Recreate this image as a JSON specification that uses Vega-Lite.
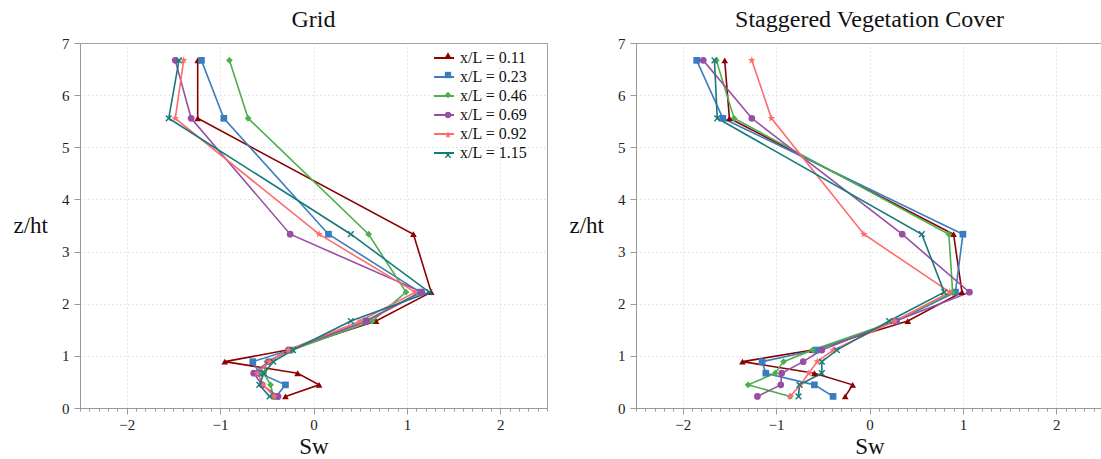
{
  "$schema": "https://vega.github.io/schema/vega-lite/v6.json",
  "background": "white",
  "padding": {"left": 12, "top": 7, "right": 0, "bottom": 0},
  "spacing": 20,
  "config": {
    "font": "Liberation Serif",
    "view": {"stroke": "#a0a0a0", "strokeWidth": 1},
    "title": {"font": "Liberation Serif", "fontSize": 24, "fontWeight": "normal", "color": "#111", "offset": 4},
    "axis": {
      "labelFont": "Liberation Serif", "labelFontSize": 15, "labelColor": "#222", "labelOverlap": false,
      "titleFont": "Liberation Serif", "titleFontSize": 23, "titleFontWeight": "normal", "titleColor": "#111",
      "domainColor": "#999", "tickColor": "#999", "gridColor": "#cfcfcf", "gridDash": [1, 3]
    }
  },
  "datasets": {
    "d": [
      {"panel": "Grid", "series": "x/L = 0.11", "z": 0.222, "sw": -0.30},
      {"panel": "Grid", "series": "x/L = 0.11", "z": 0.444, "sw": 0.06},
      {"panel": "Grid", "series": "x/L = 0.11", "z": 0.667, "sw": -0.17},
      {"panel": "Grid", "series": "x/L = 0.11", "z": 0.889, "sw": -0.95},
      {"panel": "Grid", "series": "x/L = 0.11", "z": 1.111, "sw": -0.28},
      {"panel": "Grid", "series": "x/L = 0.11", "z": 1.667, "sw": 0.67},
      {"panel": "Grid", "series": "x/L = 0.11", "z": 2.222, "sw": 1.26},
      {"panel": "Grid", "series": "x/L = 0.11", "z": 3.333, "sw": 1.07},
      {"panel": "Grid", "series": "x/L = 0.11", "z": 5.556, "sw": -1.24},
      {"panel": "Grid", "series": "x/L = 0.11", "z": 6.667, "sw": -1.24},

      {"panel": "Grid", "series": "x/L = 0.23", "z": 0.222, "sw": -0.40},
      {"panel": "Grid", "series": "x/L = 0.23", "z": 0.444, "sw": -0.30},
      {"panel": "Grid", "series": "x/L = 0.23", "z": 0.667, "sw": -0.58},
      {"panel": "Grid", "series": "x/L = 0.23", "z": 0.889, "sw": -0.65},
      {"panel": "Grid", "series": "x/L = 0.23", "z": 1.111, "sw": -0.25},
      {"panel": "Grid", "series": "x/L = 0.23", "z": 1.667, "sw": 0.56},
      {"panel": "Grid", "series": "x/L = 0.23", "z": 2.222, "sw": 1.14},
      {"panel": "Grid", "series": "x/L = 0.23", "z": 3.333, "sw": 0.16},
      {"panel": "Grid", "series": "x/L = 0.23", "z": 5.556, "sw": -0.96},
      {"panel": "Grid", "series": "x/L = 0.23", "z": 6.667, "sw": -1.20},

      {"panel": "Grid", "series": "x/L = 0.46", "z": 0.222, "sw": -0.43},
      {"panel": "Grid", "series": "x/L = 0.46", "z": 0.444, "sw": -0.46},
      {"panel": "Grid", "series": "x/L = 0.46", "z": 0.667, "sw": -0.53},
      {"panel": "Grid", "series": "x/L = 0.46", "z": 0.889, "sw": -0.50},
      {"panel": "Grid", "series": "x/L = 0.46", "z": 1.111, "sw": -0.23},
      {"panel": "Grid", "series": "x/L = 0.46", "z": 1.667, "sw": 0.63},
      {"panel": "Grid", "series": "x/L = 0.46", "z": 2.222, "sw": 0.99},
      {"panel": "Grid", "series": "x/L = 0.46", "z": 3.333, "sw": 0.59},
      {"panel": "Grid", "series": "x/L = 0.46", "z": 5.556, "sw": -0.70},
      {"panel": "Grid", "series": "x/L = 0.46", "z": 6.667, "sw": -0.90},

      {"panel": "Grid", "series": "x/L = 0.69", "z": 0.222, "sw": -0.38},
      {"panel": "Grid", "series": "x/L = 0.69", "z": 0.444, "sw": -0.55},
      {"panel": "Grid", "series": "x/L = 0.69", "z": 0.667, "sw": -0.64},
      {"panel": "Grid", "series": "x/L = 0.69", "z": 0.889, "sw": -0.48},
      {"panel": "Grid", "series": "x/L = 0.69", "z": 1.111, "sw": -0.27},
      {"panel": "Grid", "series": "x/L = 0.69", "z": 1.667, "sw": 0.57},
      {"panel": "Grid", "series": "x/L = 0.69", "z": 2.222, "sw": 1.16},
      {"panel": "Grid", "series": "x/L = 0.69", "z": 3.333, "sw": -0.25},
      {"panel": "Grid", "series": "x/L = 0.69", "z": 5.556, "sw": -1.31},
      {"panel": "Grid", "series": "x/L = 0.69", "z": 6.667, "sw": -1.48},

      {"panel": "Grid", "series": "x/L = 0.92", "z": 0.222, "sw": -0.42},
      {"panel": "Grid", "series": "x/L = 0.92", "z": 0.444, "sw": -0.54},
      {"panel": "Grid", "series": "x/L = 0.92", "z": 0.667, "sw": -0.60},
      {"panel": "Grid", "series": "x/L = 0.92", "z": 0.889, "sw": -0.47},
      {"panel": "Grid", "series": "x/L = 0.92", "z": 1.111, "sw": -0.27},
      {"panel": "Grid", "series": "x/L = 0.92", "z": 1.667, "sw": 0.50},
      {"panel": "Grid", "series": "x/L = 0.92", "z": 2.222, "sw": 1.09},
      {"panel": "Grid", "series": "x/L = 0.92", "z": 3.333, "sw": 0.06},
      {"panel": "Grid", "series": "x/L = 0.92", "z": 5.556, "sw": -1.48},
      {"panel": "Grid", "series": "x/L = 0.92", "z": 6.667, "sw": -1.39},

      {"panel": "Grid", "series": "x/L = 1.15", "z": 0.222, "sw": -0.47},
      {"panel": "Grid", "series": "x/L = 1.15", "z": 0.444, "sw": -0.58},
      {"panel": "Grid", "series": "x/L = 1.15", "z": 0.667, "sw": -0.53},
      {"panel": "Grid", "series": "x/L = 1.15", "z": 0.889, "sw": -0.43},
      {"panel": "Grid", "series": "x/L = 1.15", "z": 1.111, "sw": -0.22},
      {"panel": "Grid", "series": "x/L = 1.15", "z": 1.667, "sw": 0.40},
      {"panel": "Grid", "series": "x/L = 1.15", "z": 2.222, "sw": 1.24},
      {"panel": "Grid", "series": "x/L = 1.15", "z": 3.333, "sw": 0.40},
      {"panel": "Grid", "series": "x/L = 1.15", "z": 5.556, "sw": -1.55},
      {"panel": "Grid", "series": "x/L = 1.15", "z": 6.667, "sw": -1.44},

      {"panel": "Staggered", "series": "x/L = 0.11", "z": 0.222, "sw": -0.26},
      {"panel": "Staggered", "series": "x/L = 0.11", "z": 0.444, "sw": -0.18},
      {"panel": "Staggered", "series": "x/L = 0.11", "z": 0.667, "sw": -0.59},
      {"panel": "Staggered", "series": "x/L = 0.11", "z": 0.889, "sw": -1.36},
      {"panel": "Staggered", "series": "x/L = 0.11", "z": 1.111, "sw": -0.61},
      {"panel": "Staggered", "series": "x/L = 0.11", "z": 1.667, "sw": 0.41},
      {"panel": "Staggered", "series": "x/L = 0.11", "z": 2.222, "sw": 0.99},
      {"panel": "Staggered", "series": "x/L = 0.11", "z": 3.333, "sw": 0.90},
      {"panel": "Staggered", "series": "x/L = 0.11", "z": 5.556, "sw": -1.50},
      {"panel": "Staggered", "series": "x/L = 0.11", "z": 6.667, "sw": -1.55},

      {"panel": "Staggered", "series": "x/L = 0.23", "z": 0.222, "sw": -0.39},
      {"panel": "Staggered", "series": "x/L = 0.23", "z": 0.444, "sw": -0.59},
      {"panel": "Staggered", "series": "x/L = 0.23", "z": 0.667, "sw": -1.11},
      {"panel": "Staggered", "series": "x/L = 0.23", "z": 0.889, "sw": -1.15},
      {"panel": "Staggered", "series": "x/L = 0.23", "z": 1.111, "sw": -0.57},
      {"panel": "Staggered", "series": "x/L = 0.23", "z": 1.667, "sw": 0.29},
      {"panel": "Staggered", "series": "x/L = 0.23", "z": 2.222, "sw": 0.92},
      {"panel": "Staggered", "series": "x/L = 0.23", "z": 3.333, "sw": 1.00},
      {"panel": "Staggered", "series": "x/L = 0.23", "z": 5.556, "sw": -1.57},
      {"panel": "Staggered", "series": "x/L = 0.23", "z": 6.667, "sw": -1.85},

      {"panel": "Staggered", "series": "x/L = 0.46", "z": 0.222, "sw": -0.85},
      {"panel": "Staggered", "series": "x/L = 0.46", "z": 0.444, "sw": -1.30},
      {"panel": "Staggered", "series": "x/L = 0.46", "z": 0.667, "sw": -1.01},
      {"panel": "Staggered", "series": "x/L = 0.46", "z": 0.889, "sw": -0.92},
      {"panel": "Staggered", "series": "x/L = 0.46", "z": 1.111, "sw": -0.61},
      {"panel": "Staggered", "series": "x/L = 0.46", "z": 1.667, "sw": 0.28},
      {"panel": "Staggered", "series": "x/L = 0.46", "z": 2.222, "sw": 0.89},
      {"panel": "Staggered", "series": "x/L = 0.46", "z": 3.333, "sw": 0.85},
      {"panel": "Staggered", "series": "x/L = 0.46", "z": 5.556, "sw": -1.45},
      {"panel": "Staggered", "series": "x/L = 0.46", "z": 6.667, "sw": -1.64},

      {"panel": "Staggered", "series": "x/L = 0.69", "z": 0.222, "sw": -1.20},
      {"panel": "Staggered", "series": "x/L = 0.69", "z": 0.444, "sw": -0.95},
      {"panel": "Staggered", "series": "x/L = 0.69", "z": 0.667, "sw": -0.94},
      {"panel": "Staggered", "series": "x/L = 0.69", "z": 0.889, "sw": -0.71},
      {"panel": "Staggered", "series": "x/L = 0.69", "z": 1.111, "sw": -0.51},
      {"panel": "Staggered", "series": "x/L = 0.69", "z": 1.667, "sw": 0.28},
      {"panel": "Staggered", "series": "x/L = 0.69", "z": 2.222, "sw": 1.07},
      {"panel": "Staggered", "series": "x/L = 0.69", "z": 3.333, "sw": 0.35},
      {"panel": "Staggered", "series": "x/L = 0.69", "z": 5.556, "sw": -1.26},
      {"panel": "Staggered", "series": "x/L = 0.69", "z": 6.667, "sw": -1.78},

      {"panel": "Staggered", "series": "x/L = 0.92", "z": 0.222, "sw": -0.85},
      {"panel": "Staggered", "series": "x/L = 0.92", "z": 0.444, "sw": -0.74},
      {"panel": "Staggered", "series": "x/L = 0.92", "z": 0.667, "sw": -0.65},
      {"panel": "Staggered", "series": "x/L = 0.92", "z": 0.889, "sw": -0.56},
      {"panel": "Staggered", "series": "x/L = 0.92", "z": 1.111, "sw": -0.39},
      {"panel": "Staggered", "series": "x/L = 0.92", "z": 1.667, "sw": 0.27},
      {"panel": "Staggered", "series": "x/L = 0.92", "z": 2.222, "sw": 0.86},
      {"panel": "Staggered", "series": "x/L = 0.92", "z": 3.333, "sw": -0.06},
      {"panel": "Staggered", "series": "x/L = 0.92", "z": 5.556, "sw": -1.05},
      {"panel": "Staggered", "series": "x/L = 0.92", "z": 6.667, "sw": -1.26},

      {"panel": "Staggered", "series": "x/L = 1.15", "z": 0.222, "sw": -0.76},
      {"panel": "Staggered", "series": "x/L = 1.15", "z": 0.444, "sw": -0.75},
      {"panel": "Staggered", "series": "x/L = 1.15", "z": 0.667, "sw": -0.51},
      {"panel": "Staggered", "series": "x/L = 1.15", "z": 0.889, "sw": -0.51},
      {"panel": "Staggered", "series": "x/L = 1.15", "z": 1.111, "sw": -0.35},
      {"panel": "Staggered", "series": "x/L = 1.15", "z": 1.667, "sw": 0.21},
      {"panel": "Staggered", "series": "x/L = 1.15", "z": 2.222, "sw": 0.80},
      {"panel": "Staggered", "series": "x/L = 1.15", "z": 3.333, "sw": 0.56},
      {"panel": "Staggered", "series": "x/L = 1.15", "z": 5.556, "sw": -1.63},
      {"panel": "Staggered", "series": "x/L = 1.15", "z": 6.667, "sw": -1.66}
    ]
  },
  "hconcat": [
    {
      "title": "Grid",
      "width": 467,
      "height": 365,
      "data": {"name": "d"},
      "transform": [{"filter": "datum.panel === 'Grid'"}],
      "encoding": {
        "y": {"field": "z", "type": "quantitative", "scale": {"domain": [0, 7], "nice": false},
          "axis": {"title": "z/ht", "titleAngle": 0, "titleAlign": "right", "titleBaseline": "middle", "titlePadding": 14,
            "values": [0,0.5,1,1.5,2,2.5,3,3.5,4,4.5,5,5.5,6,6.5,7],
            "format": "d",
            "labelExpr": "datum.value % 1 === 0 ? datum.label : ''",
            "labelPadding": 5,
            "tickSize": {"condition": {"test": "datum.value % 1 === 0", "value": 6}, "value": 3},
            "gridOpacity": {"condition": {"test": "datum.value % 1 === 0 && datum.value > 0 && datum.value < 7", "value": 1}, "value": 0},
            "grid": true}}
      },
      "layer": [
        {
          "mark": {"type": "line", "strokeWidth": 1.6},
          "encoding": {
            "x": {"field": "sw", "type": "quantitative", "scale": {"domain": [-2.5, 2.5], "nice": false, "zero": false},
              "axis": {"orient": "bottom", "title": "Sw", "titlePadding": 3, "values": [-2, -1, 0, 1, 2], "format": "d",
                "labelPadding": 3, "tickSize": 6, "grid": true, "labelFlush": false}},
            "stroke": {"field": "series", "type": "nominal",
              "scale": {"range": ["#8b0000","#3a7dbf","#4caf4a","#984ea3","#ff6b6b","#17797a"]},
              "legend": {"orient": "none", "legendX": 353, "legendY": 4, "title": null, "symbolType": "stroke", "symbolSize": 400, "symbolStrokeWidth": 2,
                "labelFont": "Liberation Serif", "labelFontSize": 16, "labelColor": "#111", "rowPadding": 0, "labelOffset": 5}},
            "order": {"field": "z", "type": "quantitative"}
          }
        },
        {
          "mark": {"type": "point", "filled": true, "opacity": 1, "size": 45},
          "encoding": {
            "x": {"field": "sw", "type": "quantitative",
              "axis": {"orient": "bottom", "title": null, "labels": false, "grid": false, "domain": false, "tickSize": 3,
                "values": [-2.5,-2.4,-2.3,-2.2,-2.1,-1.9,-1.8,-1.7,-1.6,-1.5,-1.4,-1.3,-1.2,-1.1,-0.9,-0.8,-0.7,-0.6,-0.5,-0.4,-0.3,-0.2,-0.1,0.1,0.2,0.3,0.4,0.5,0.6,0.7,0.8,0.9,1.1,1.2,1.3,1.4,1.5,1.6,1.7,1.8,1.9,2.1,2.2,2.3,2.4,2.5]}},
            "fill": {"field": "series", "type": "nominal",
              "scale": {"domain": ["x/L = 0.11","x/L = 0.23","x/L = 0.46","x/L = 0.69","x/L = 0.92","x/L = 1.15"],
                "range": ["#8b0000","#3a7dbf","#4caf4a","#984ea3","#ff6b6b","#17797a"]},
              "legend": {"orient": "none", "legendX": 353, "legendY": 4, "title": null, "symbolSize": 40, "symbolOffset": 7,
                "labelFontSize": 16, "labelOpacity": 0, "rowPadding": 4, "labelOffset": 5}},
            "shape": {"field": "series", "type": "nominal",
              "scale": {"domain": ["x/L = 0.11","x/L = 0.23","x/L = 0.46","x/L = 0.69","x/L = 0.92","x/L = 1.15"],
                "range": ["triangle-up", "square", "diamond", "circle",
                  "M0,-1.2L0.28,-0.39L1.14,-0.37L0.46,0.15L0.71,0.97L0,0.48L-0.71,0.97L-0.46,0.15L-1.14,-0.37L-0.28,-0.39Z",
                  "M-1,-0.7L-0.7,-1L0,-0.3L0.7,-1L1,-0.7L0.3,0L1,0.7L0.7,1L0,0.3L-0.7,1L-1,0.7L-0.3,0Z"]},
              "legend": {"orient": "none", "legendX": 353, "legendY": 4, "title": null, "symbolSize": 40, "symbolOffset": 7,
                "labelFontSize": 16, "labelOpacity": 0, "rowPadding": 4, "labelOffset": 5}}
          }
        }
      ],
      "resolve": {"axis": {"x": "independent"}}
    },
    {
      "title": "Staggered Vegetation Cover",
      "width": 467,
      "height": 365,
      "data": {"name": "d"},
      "transform": [{"filter": "datum.panel === 'Staggered'"}],
      "encoding": {
        "y": {"field": "z", "type": "quantitative", "scale": {"domain": [0, 7], "nice": false},
          "axis": {"title": "z/ht", "titleAngle": 0, "titleAlign": "right", "titleBaseline": "middle", "titlePadding": 14,
            "values": [0,0.5,1,1.5,2,2.5,3,3.5,4,4.5,5,5.5,6,6.5,7],
            "format": "d",
            "labelExpr": "datum.value % 1 === 0 ? datum.label : ''",
            "labelPadding": 5,
            "tickSize": {"condition": {"test": "datum.value % 1 === 0", "value": 6}, "value": 3},
            "gridOpacity": {"condition": {"test": "datum.value % 1 === 0 && datum.value > 0 && datum.value < 7", "value": 1}, "value": 0},
            "grid": true}}
      },
      "layer": [
        {
          "mark": {"type": "line", "strokeWidth": 1.6},
          "encoding": {
            "x": {"field": "sw", "type": "quantitative", "scale": {"domain": [-2.5, 2.5], "nice": false, "zero": false},
              "axis": {"orient": "bottom", "title": "Sw", "titlePadding": 3, "values": [-2, -1, 0, 1, 2], "format": "d",
                "labelPadding": 3, "tickSize": 6, "grid": true, "labelFlush": false}},
            "stroke": {"field": "series", "type": "nominal",
              "scale": {"range": ["#8b0000","#3a7dbf","#4caf4a","#984ea3","#ff6b6b","#17797a"]},
              "legend": {"orient": "none", "legendX": 357, "legendY": 4, "title": null, "symbolType": "stroke", "symbolSize": 400, "symbolStrokeWidth": 2,
                "labelFont": "Liberation Serif", "labelFontSize": 16, "labelColor": "#111", "rowPadding": 0, "labelOffset": 5}},
            "order": {"field": "z", "type": "quantitative"}
          }
        },
        {
          "mark": {"type": "point", "filled": true, "opacity": 1, "size": 45},
          "encoding": {
            "x": {"field": "sw", "type": "quantitative",
              "axis": {"orient": "bottom", "title": null, "labels": false, "grid": false, "domain": false, "tickSize": 3,
                "values": [-2.5,-2.4,-2.3,-2.2,-2.1,-1.9,-1.8,-1.7,-1.6,-1.5,-1.4,-1.3,-1.2,-1.1,-0.9,-0.8,-0.7,-0.6,-0.5,-0.4,-0.3,-0.2,-0.1,0.1,0.2,0.3,0.4,0.5,0.6,0.7,0.8,0.9,1.1,1.2,1.3,1.4,1.5,1.6,1.7,1.8,1.9,2.1,2.2,2.3,2.4,2.5]}},
            "fill": {"field": "series", "type": "nominal",
              "scale": {"domain": ["x/L = 0.11","x/L = 0.23","x/L = 0.46","x/L = 0.69","x/L = 0.92","x/L = 1.15"],
                "range": ["#8b0000","#3a7dbf","#4caf4a","#984ea3","#ff6b6b","#17797a"]},
              "legend": {"orient": "none", "legendX": 357, "legendY": 4, "title": null, "symbolSize": 40, "symbolOffset": 7,
                "labelFontSize": 16, "labelOpacity": 0, "rowPadding": 4, "labelOffset": 5}},
            "shape": {"field": "series", "type": "nominal",
              "scale": {"domain": ["x/L = 0.11","x/L = 0.23","x/L = 0.46","x/L = 0.69","x/L = 0.92","x/L = 1.15"],
                "range": ["triangle-up", "square", "diamond", "circle",
                  "M0,-1.2L0.28,-0.39L1.14,-0.37L0.46,0.15L0.71,0.97L0,0.48L-0.71,0.97L-0.46,0.15L-1.14,-0.37L-0.28,-0.39Z",
                  "M-1,-0.7L-0.7,-1L0,-0.3L0.7,-1L1,-0.7L0.3,0L1,0.7L0.7,1L0,0.3L-0.7,1L-1,0.7L-0.3,0Z"]},
              "legend": {"orient": "none", "legendX": 357, "legendY": 4, "title": null, "symbolSize": 40, "symbolOffset": 7,
                "labelFontSize": 16, "labelOpacity": 0, "rowPadding": 4, "labelOffset": 5}}
          }
        }
      ],
      "resolve": {"axis": {"x": "independent"}}
    }
  ],
  "resolve": {"scale": {"x": "independent", "y": "independent"}}
}
